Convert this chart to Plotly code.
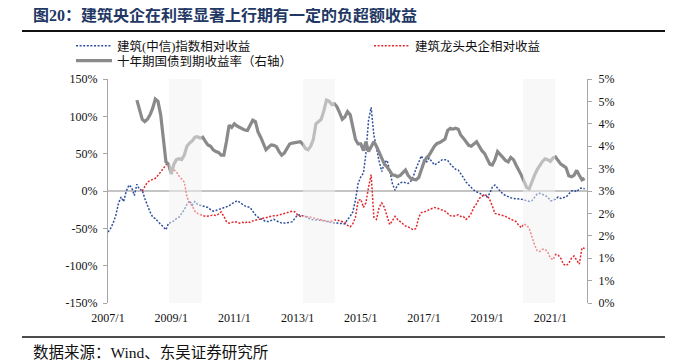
import pandas as pd
import plotly.graph_objects as go

# ---- data (monthly, 2007/1 .. 2022/2) ----
dates = pd.date_range("2007-01-01", periods=182, freq="MS")

construction_rel = [  # 建筑(中信)指数相对收益, %
    -55, -50, -43, -33, -17, -8, -14, 0, 8, 5, -6, 9,
    2, 1, -10, -20, -28, -35, -37, -41, -44, -48, -52, -43,
    -42, -40, -37, -35, -30, -25, -18, -13, -19, -14, -18, -19,
    -20, -21, -22, -25, -27, -26, -25, -23, -22, -21, -20, -17,
    -15, -13, -15, -18, -20, -21, -22, -27, -32, -35, -37, -40,
    -41, -41, -39, -38, -40, -42, -43, -43, -43, -42, -41, -36,
    -32, -32, -33, -34, -36, -38, -39, -39, -39, -40, -40, -41,
    -42, -43, -43, -43, -43, -44, -44, -38, -34, -28, -12, 10,
    19, 24, 50, 95, 112, 75, 56, 40, 26, 38, 41, 28,
    10, 1, 8, 11, 12, 11, 10, 13, 20, 30, 40, 47,
    40, 39, 44, 40, 35, 37, 40, 42, 42, 41, 36, 32,
    29, 28, 24, 18, 12, 8, 4, 1, -1, -3, -5, -6,
    -8, -3, 5, 8, 4, -1, -4, -6, -8, -9, -10, -10,
    -10, -11, -12, -13, -14, -13, -9, -4, -3, -4, -6, -8,
    -13, -13, -10, -8, -10, -9, -8, -4, 0, 1, -1, 3,
    4, 3,
]

soe_rel = [  # 建筑龙头央企相对收益, %
    None, None, None, None, None, None, None, None, None, None, None, None,
    None, 0, 5, 12, 14, 15, 17, 21, 25, 30, 35, 36,
    31, 28, 26, 20, 16, 12, -8, -16, -20, -27, -30, -32,
    -33, -34, -34, -33, -32, -33, -31, -28, -34, -41, -43, -42,
    -41, -42, -43, -42, -43, -41, -42, -40, -39, -38, -37, -36,
    -35, -34, -34, -33, -33, -32, -31, -30, -28, -27, -27, -28,
    -32, -34, -33, -34, -34, -35, -36, -37, -38, -39, -39, -40,
    -41, -40, -39, -39, -40, -41, -42, -46, -48, -44, -35, -13,
    -11, -22, -16, 5, 22, -35, -38, -22, -16, -22, -33, -45,
    -40, -34, -38, -41, -44, -47, -48, -50, -52, -50, -35, -29,
    -28, -27, -25, -23, -22, -23, -24, -25, -27, -30, -33, -34,
    -33, -32, -34, -34, -38, -35, -30, -22, -17, -10, -7, -5,
    -6, -12, -20, -30, -31, -32, -33, -34, -36, -38, -40, -41,
    -46, -49, -44, -46, -50, -62, -72, -80, -81, -78, -78, -82,
    -90, -92, -85, -86, -90, -98, -100, -97, -90, -87, -92, -98,
    -76, -77,
]

cgb10y = [  # 十年期国债到期收益率, %
    None, None, None, None, None, None, None, None, None, None, None, 4.53,
    4.3, 4.1, 4.05, 4.1, 4.2, 4.35, 4.55, 4.5, 4.2, 3.6, 3.15, 3.1,
    2.88, 3.1, 3.2, 3.22, 3.2, 3.3, 3.5, 3.57, 3.62, 3.7, 3.71, 3.68,
    3.7, 3.6, 3.53, 3.5, 3.42, 3.38, 3.36, 3.3, 3.3, 3.6, 3.97, 3.92,
    4.0, 3.95, 3.92, 3.88, 3.86, 3.85, 3.95, 4.08, 4.05, 3.82, 3.7, 3.55,
    3.42, 3.48, 3.53, 3.52, 3.49, 3.38, 3.3, 3.35, 3.45, 3.55, 3.57, 3.58,
    3.6, 3.6, 3.55, 3.45, 3.42, 3.5, 3.65, 4.0, 4.05, 4.1, 4.3, 4.53,
    4.5, 4.43, 4.45, 4.38, 4.25, 4.1, 4.15, 4.27, 4.2, 3.95, 3.65, 3.55,
    3.55, 3.4, 3.6, 3.38, 3.5, 3.6, 3.5, 3.35, 3.2, 3.1, 3.04, 2.95,
    2.86, 2.85, 2.82, 2.85, 2.92, 2.97, 2.85, 2.78, 2.76, 2.75, 2.8, 3.0,
    3.15, 3.25, 3.3, 3.4, 3.5, 3.56, 3.58, 3.62, 3.66, 3.85, 3.9, 3.88,
    3.9, 3.88, 3.75, 3.68, 3.6, 3.52, 3.5, 3.55, 3.6, 3.5, 3.4, 3.34,
    3.2, 3.1, 3.08, 3.2, 3.38, 3.3, 3.25, 3.18, 3.15, 3.25, 3.2, 3.08,
    2.98, 2.85, 2.72, 2.58, 2.55, 2.72, 2.85, 2.98, 3.08, 3.16, 3.22, 3.2,
    3.16, 3.24, 3.26, 3.18, 3.1, 3.06, 3.02, 2.84, 2.82, 2.85, 2.96, 2.85,
    2.75, 2.78,
]

# periods of notably rising rates (shaded)
rise_start = ["2008-12-07", "2013-03-03", "2020-02-18"]
rise_end = ["2009-12-20", "2014-03-06", "2021-02-24"]

x_tickvals = ["2007-01-01", "2009-01-01", "2011-01-01", "2013-01-01",
              "2015-01-01", "2017-01-01", "2019-01-01", "2021-01-01"]
x_ticktext = ["2007/1", "2009/1", "2011/1", "2013/1",
              "2015/1", "2017/1", "2019/1", "2021/1"]
y_tickvals = [-150, -100, -50, 0, 50, 100, 150]
y_ticktext = ["-150%", "-100%", "-50%", "0%", "50%", "100%", "150%"]
y2_tickvals = [0, 0.5, 1, 1.5, 2, 2.5, 3, 3.5, 4, 4.5, 5]
y2_ticktext = ["0%", "1%", "1%", "2%", "2%", "3%", "3%", "4%", "4%", "5%", "5%"]

FONT = "Liberation Serif, 'Noto Sans CJK SC', serif"
AXIS_GRAY = "#a6a6a6"

fig = go.Figure()
fig.add_trace(go.Scatter(
    x=dates, y=construction_rel, name="建筑(中信)指数相对收益", mode="lines",
    line=dict(color="#2f4f9e", width=1.5, dash="2px,1.6px"), yaxis="y", legend="legend"))
fig.add_trace(go.Scatter(
    x=dates, y=soe_rel, name="建筑龙头央企相对收益", mode="lines",
    line=dict(color="#e3262b", width=1.5, dash="2px,1.6px"), yaxis="y", legend="legend2"))
fig.add_trace(go.Scatter(
    x=dates, y=cgb10y, name="十年期国债到期收益率（右轴）", mode="lines",
    line=dict(color="#8a8a8a", width=3.2), yaxis="y2", legend="legend3"))

# The page body has an 8px margin, so the figure is drawn 8px smaller and
# all positions below are given in page pixels.
OFF = 8
W, H = 673 - OFF, 364 - OFF
PL, PR, PT, PB = 108, 587, 79, 303          # plot area in page pixels
L, T = PL - OFF, PT - OFF
R = W + OFF - PR
B = H + OFF - PB
pw, ph = PR - PL, PB - PT


def px(xp):
    return (xp - PL) / pw


def py(yp):
    return (PB - yp) / ph


shapes = []
for s, e in zip(rise_start, rise_end):
    shapes.append(dict(type="rect", xref="x", yref="paper", x0=s, x1=e, y0=0, y1=1,
                       fillcolor="rgba(242,242,242,0.5)", line=dict(width=0), layer="above"))

shapes.append(dict(type="line", xref="paper", yref="paper", x0=px(22), x1=px(673),
                   y0=py(31), y1=py(31), line=dict(color="#111111", width=2)))
shapes.append(dict(type="line", xref="paper", yref="paper", x0=px(22), x1=px(673),
                   y0=py(337), y1=py(337), line=dict(color="#111111", width=1.5)))

annotations = [
    dict(text="<b>图20：建筑央企在利率显著上行期有一定的负超额收益</b>", xref="paper", yref="paper",
         x=px(31), y=py(15), xanchor="left", yanchor="middle", showarrow=False,
         font=dict(family=FONT, size=16, color="#1f3864")),
    dict(text="数据来源：Wind、东吴证券研究所", xref="paper", yref="paper",
         x=px(31), y=py(352), xanchor="left", yanchor="middle", showarrow=False,
         font=dict(family=FONT, size=15.5, color="#111111")),
]

legend_common = dict(orientation="v", xanchor="left", yanchor="top",
                     font=dict(family=FONT, size=12.5, color="#111111"),
                     bgcolor="rgba(0,0,0,0)", itemwidth=36, tracegroupgap=0)

fig.update_layout(
    width=W, height=H, margin=dict(l=L, r=R, t=T, b=B, autoexpand=False),
    paper_bgcolor="white", plot_bgcolor="white",
    font=dict(family=FONT, size=12, color="#111111"),
    shapes=shapes, annotations=annotations,
    showlegend=True,
    legend=dict(x=px(71), y=py(31), **legend_common),
    legend2=dict(x=px(369), y=py(31), **legend_common),
    legend3=dict(x=px(71), y=py(46), **legend_common),
    xaxis=dict(type="date", range=["2007-01-01", "2022-02-28"], tickvals=x_tickvals,
               ticktext=x_ticktext, showgrid=False, showline=False, ticks="",
               zeroline=False, tickfont=dict(size=12), ticklabelstandoff=6),
    yaxis=dict(range=[-150, 150], tickvals=y_tickvals, ticktext=y_ticktext,
               showgrid=False, showline=True, linecolor=AXIS_GRAY,
               linewidth=1, ticks="outside", ticklen=4, tickcolor=AXIS_GRAY,
               zeroline=True, zerolinecolor="#c4c4c4", zerolinewidth=2,
               tickfont=dict(size=12), ticklabelstandoff=3),
    yaxis2=dict(range=[0, 5], overlaying="y", side="right", tickvals=y2_tickvals,
                ticktext=y2_ticktext, showgrid=False, showline=True, linecolor=AXIS_GRAY,
                linewidth=1, ticks="outside", ticklen=4, tickcolor=AXIS_GRAY,
                zeroline=False, tickfont=dict(size=12), ticklabelstandoff=4),
)

fig.write_html("out.html")
